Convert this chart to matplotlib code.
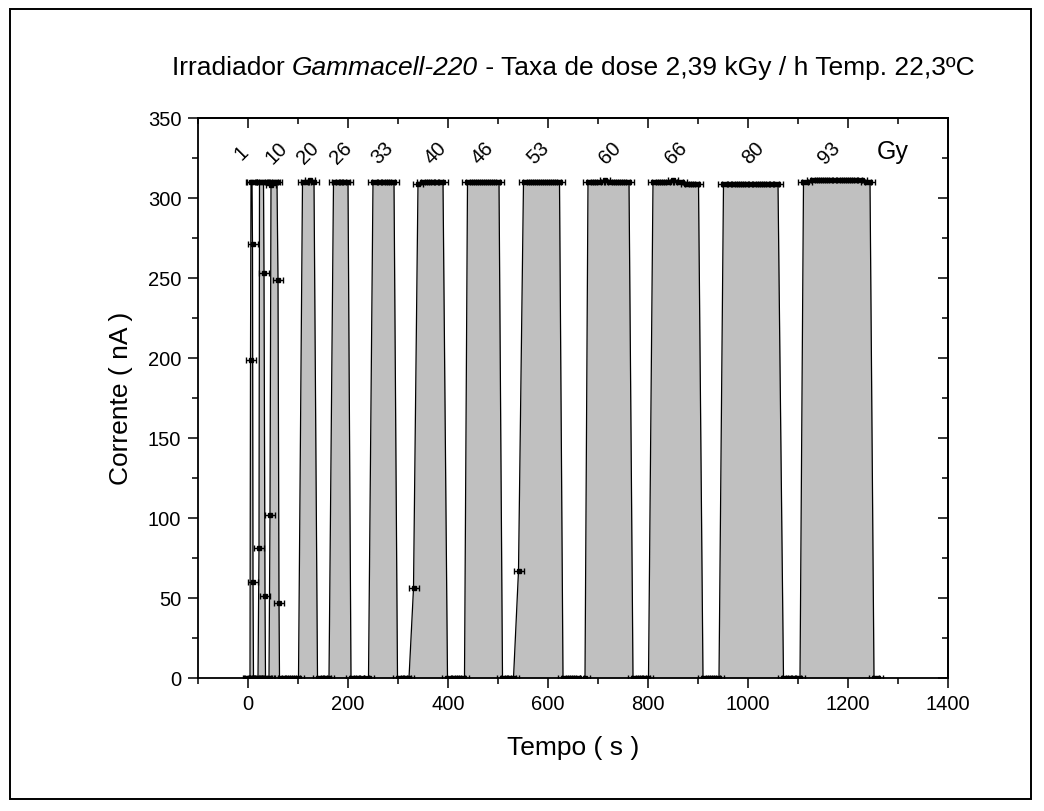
import matplotlib
matplotlib.use("Agg")
import matplotlib.pyplot as plt
from matplotlib.ticker import MultipleLocator
from matplotlib.patches import Rectangle

plt.rcParams['font.family'] = ['Liberation Sans', 'DejaVu Sans']

# leituras do eletrometro (tempo em s, corrente em nA)
tempo = [0, 2,
         4, 5, 6, 8, 9, 10, 11, 14, 17, 20,
         22, 23, 27, 31, 32, 34, 35, 38, 42,
         44, 46, 50, 54, 58, 60, 62, 63, 70, 78, 86, 94, 101,
         109, 116, 124, 132, 139, 147, 155, 162,
         171, 178, 186, 193, 200, 206, 214, 222, 231, 241,
         250, 258, 267, 275, 283, 292, 299, 307, 315, 322,
         331, 340, 347, 355, 364, 372, 381, 390, 399, 408, 416, 425, 433,
         439, 447, 455, 463, 471, 479, 487, 495, 502, 509, 517, 525, 531,
         541, 551, 559, 567, 575, 583, 591, 599, 607, 615, 623, 630, 638, 646, 654, 662, 674,
         680, 688, 696, 704, 713, 721, 729, 737, 745, 754, 762, 770, 778, 786, 794, 801,
         810, 818, 826, 835, 843, 851, 860, 868, 876, 884, 893, 901, 910, 918, 926, 934, 942,
         951, 959, 968, 976, 985, 993, 1001, 1010, 1018, 1026, 1035, 1043, 1052, 1060,
         1071, 1079, 1087, 1096, 1104,
         1111, 1119, 1128, 1136, 1144, 1153, 1161, 1169, 1178, 1186, 1194, 1203, 1211, 1219,
         1228, 1236, 1244, 1252, 1260]
corrente = [0, 0,
            0, 199, 310, 310, 271, 60, 0, 0, 0, 0,
            81, 310, 310, 310, 253, 51, 0, 0, 0,
            102, 308, 310, 310, 310, 249, 47, 0, 0, 0, 0, 0, 0,
            310, 310, 311, 310, 0, 0, 0, 0,
            310, 310, 310, 310, 310, 0, 0, 0, 0, 0,
            310, 310, 310, 310, 310, 310, 0, 0, 0, 0,
            56, 309, 310, 310, 310, 310, 310, 310, 0, 0, 0, 0, 0,
            310, 310, 310, 310, 310, 310, 310, 310, 310, 0, 0, 0, 0,
            67, 310, 310, 310, 310, 310, 310, 310, 310, 310, 310, 0, 0, 0, 0, 0, 0,
            310, 310, 310, 310, 311, 310, 310, 310, 310, 310, 310, 0, 0, 0, 0, 0,
            310, 310, 310, 310, 310, 311, 310, 310, 309, 309, 309, 309, 0, 0, 0, 0, 0,
            309, 309, 309, 309, 309, 309, 309, 309, 309, 309, 309, 309, 309, 309,
            0, 0, 0, 0, 0,
            310, 310, 311, 311, 311, 311, 311, 311, 311, 311, 311, 311, 311, 311,
            311, 310, 310, 0, 0]
erro_t = 10

doses = ['1', '10', '20', '26', '33', '40', '46', '53', '60', '66', '80', '93']
dose_t = [-12, 56, 119, 186, 269, 375, 470, 580, 724, 856, 1010, 1162]

W, H = 1044, 811
fig = plt.figure(figsize=(W / 100, H / 100), dpi=100)
ax = fig.add_axes([198 / W, 1 - 678 / H, 750 / W, 560 / H])

ax.fill_between(tempo, corrente, 0, color='#c0c0c0', lw=0, zorder=1)
ax.plot(tempo, corrente, color='black', lw=0.9, zorder=2)
ax.errorbar(tempo, corrente, xerr=erro_t, fmt='s', ms=3, color='black',
            ecolor='black', elinewidth=1, capsize=2, capthick=1, zorder=3)

ax.set_xlim(-100, 1400)
ax.set_ylim(0, 350)
ax.xaxis.set_major_locator(MultipleLocator(200))
ax.xaxis.set_minor_locator(MultipleLocator(100))
ax.yaxis.set_major_locator(MultipleLocator(50))
ax.yaxis.set_minor_locator(MultipleLocator(25))
ax.tick_params(which='both', direction='out', width=1.1, labelsize=14.5, pad=5)
ax.tick_params(which='major', length=7)
ax.tick_params(which='minor', length=4.5)
for s in ax.spines.values():
    s.set_linewidth(1.3)

top = ax.secondary_xaxis('top')
top.xaxis.set_major_locator(MultipleLocator(200))
top.xaxis.set_minor_locator(MultipleLocator(100))
top.tick_params(which='both', direction='in', width=1.1, labeltop=False)
top.tick_params(which='major', length=7)
top.tick_params(which='minor', length=4.5)
right = ax.secondary_yaxis('right')
right.yaxis.set_major_locator(MultipleLocator(50))
right.yaxis.set_minor_locator(MultipleLocator(25))
right.tick_params(which='both', direction='in', width=1.1, labelright=False)
right.tick_params(which='major', length=7)
right.tick_params(which='minor', length=4.5)
top.spines['top'].set_linewidth(1.3)
right.spines['right'].set_linewidth(1.3)

ax.set_xlabel('Tempo ( s )', fontsize=19)
ax.set_ylabel('Corrente ( nA )', fontsize=19)
ax.xaxis.set_label_coords(0.5, (678 - 736) / 560)
ax.yaxis.set_label_coords((133 - 198) / 750, 0.5)

for d, t in zip(doses, dose_t):
    ax.text(t, 328, d, rotation=45, ha='center', va='center', fontsize=14.5,
            clip_on=False)
ax.text(1290, 329, 'Gy', ha='center', va='center', fontsize=18)

# titulo com parte em italico
partes = [('Irradiador ', 'normal'), ('Gammacell-220', 'italic'),
          (' - Taxa de dose 2,39 kGy / h Temp. 22,3ºC', 'normal')]
r = fig.canvas.get_renderer()
objs = []
for txt, st in partes:
    objs.append(fig.text(0, 1 - 68 / H, txt, fontsize=19, style=st, va='center'))
larg = [o.get_window_extent(r).width for o in objs]
x0 = 573 - sum(larg) / 2
for o, w in zip(objs, larg):
    o.set_x(x0 / W)
    x0 += w

fig.add_artist(Rectangle((10 / W, 1 - 799 / H), 1021 / W, 790 / H,
                         transform=fig.transFigure, fill=False, lw=1.4,
                         edgecolor='black'))

fig.savefig('out.png', dpi=100)
